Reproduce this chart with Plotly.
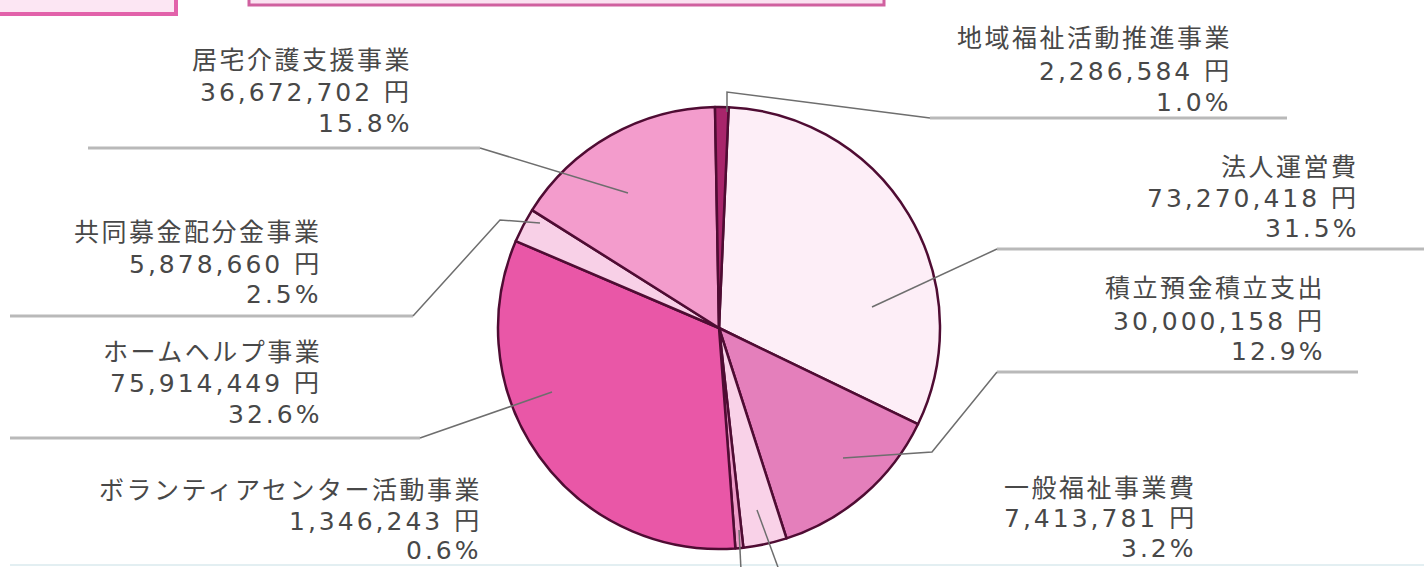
import plotly.graph_objects as go

W, H = 1424, 567

# ---- data ----
categories = ["法人運営費", "積立預金積立支出", "一般福祉事業費", "ボランティアセンター活動事業",
              "ホームヘルプ事業", "共同募金配分金事業", "居宅介護支援事業", "地域福祉活動推進事業"]
amounts = [73270418, 30000158, 7413781, 1346243, 75914449, 5878660, 36672702, 2286584]
percent_labels = ["31.5%", "12.9%", "3.2%", "0.6%", "32.6%", "2.5%", "15.8%", "1.0%"]

colors = ["#fdeef7", "#e47fbb", "#f9d2e8", "#ee9cc9", "#e957a7", "#f8d0e7", "#f39ccc", "#a8256b"]

# ---- layout constants (pixels) ----
cx, cy, R = 719, 328, 221

def px(x, y):
    return x / W, 1 - y / H

# label block: right edge x, y centres of the three lines
label_pos = {
    "法人運営費": (1358, [167, 198, 228]),
    "積立預金積立支出": (1324, [288, 321, 351]),
    "一般福祉事業費": (1196, [488, 518, 548]),
    "ボランティアセンター活動事業": (481, [490, 521, 550]),
    "ホームヘルプ事業": (321, [352, 383, 414]),
    "共同募金配分金事業": (321, [232, 264, 294]),
    "居宅介護支援事業": (411, [61, 93, 123]),
    "地域福祉活動推進事業": (1231, [38, 71, 102]),
}

# leader polylines (pixels): dark part, then light horizontal underline
leaders = {
    "法人運営費": ([(872, 307), (997, 249)], [(997, 249), (1424, 249)]),
    "積立預金積立支出": ([(843, 458), (932, 452), (997, 372)], [(997, 372), (1358, 372)]),
    "一般福祉事業費": ([(757, 510), (779, 570)], []),
    "ボランティアセンター活動事業": ([(739, 530), (741, 570)], []),
    "ホームヘルプ事業": ([(552, 392), (420, 438)], [(420, 438), (10, 438)]),
    "共同募金配分金事業": ([(540, 223), (500, 220), (413, 316)], [(413, 316), (10, 316)]),
    "居宅介護支援事業": ([(628, 193), (480, 148)], [(480, 148), (88, 148)]),
    "地域福祉活動推進事業": ([(727, 112), (727, 92), (930, 118)], [(930, 118), (1287, 118)]),
}

fig = go.Figure()
fig.add_trace(go.Pie(
    labels=categories,
    values=amounts,
    sort=False,
    direction="clockwise",
    rotation=2.5,
    textinfo="none",
    hoverinfo="label+value+percent",
    marker=dict(colors=colors, line=dict(color="#4f0c33", width=2.5)),
    domain=dict(x=[(cx - R) / W, (cx + R) / W], y=[1 - (cy + R) / H, 1 - (cy - R) / H]),
    showlegend=False,
))

shapes = []

def path_of(points):
    parts = []
    for i, (x, y) in enumerate(points):
        X, Y = px(x, y)
        parts.append(("M" if i == 0 else "L") + f"{X:.5f},{Y:.5f}")
    return " ".join(parts)

for name, (dark, light) in leaders.items():
    if light:
        shapes.append(dict(type="path", xref="paper", yref="paper", path=path_of(light),
                           line=dict(color="#b9b9b9", width=3)))
    shapes.append(dict(type="path", xref="paper", yref="paper", path=path_of(dark),
                       line=dict(color="#6e6e6e", width=1.5)))

# faint bottom rule
x0, y0 = px(10, 565)
x1, y1 = px(1424, 565)
shapes.append(dict(type="line", xref="paper", yref="paper", x0=x0, y0=y0, x1=x1, y1=y1,
                   line=dict(color="#e3eff2", width=2), layer="below"))

# header decorations (cropped title boxes)
bx0, by0 = px(-4, -6)
bx1, by1 = px(176, 14)
shapes.append(dict(type="rect", xref="paper", yref="paper", x0=bx0, y0=by0, x1=bx1, y1=by1,
                   fillcolor="#fce6f3", line=dict(color="#e262aa", width=4)))
tx0, ty0 = px(249, -6)
tx1, ty1 = px(884, 5)
shapes.append(dict(type="rect", xref="paper", yref="paper", x0=tx0, y0=ty0, x1=tx1, y1=ty1,
                   fillcolor="#fbe2f1", line=dict(color="#d0609f", width=3)))

annotations = []
font = dict(family="DejaVu Sans, Noto Sans CJK JP", size=25, color="#484848")
for name, amt, pct in zip(categories, amounts, percent_labels):
    xr, ys = label_pos[name]
    lines = [(name, 2.5), (f"{amt:,} 円", 3), (pct, 3)]
    for (txt, ls), yy in zip(lines, ys):
        X, Y = px(xr + ls, yy)
        annotations.append(dict(
            x=X, y=Y, xref="paper", yref="paper", xanchor="right", yanchor="middle",
            text=f"<span style='letter-spacing:{ls}px'>{txt}</span>", showarrow=False,
            font=font, align="right",
        ))

fig.update_layout(
    width=W, height=H,
    margin=dict(l=0, r=0, t=0, b=0),
    paper_bgcolor="white",
    plot_bgcolor="white",
    shapes=shapes,
    annotations=annotations,
)

fig.write_html("out.html", config={"displayModeBar": False},
               post_script="document.body.style.margin='0';document.body.style.overflow='hidden';")
